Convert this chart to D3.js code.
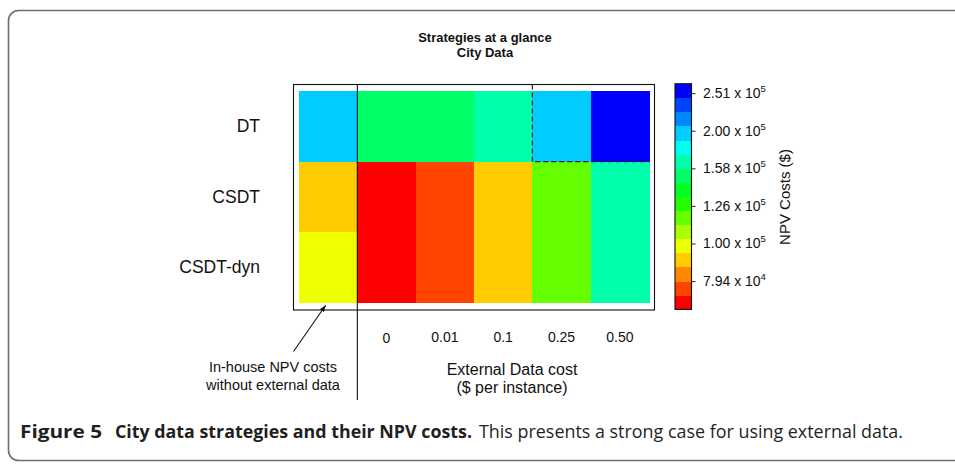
<!DOCTYPE html>
<html>
<head>
<meta charset="utf-8">
<script src="https://cdn.jsdelivr.net/npm/d3@7/dist/d3.min.js"></script>
<style>
  html, body { margin: 0; padding: 0; background: #fff; }
  svg { display: block; }
</style>
</head>
<body>
<svg id="chart" width="955" height="466"></svg>
<script>
// ---------------- data ----------------
const rows = ["DT", "CSDT", "CSDT-dyn"];
const columns = ["in-house", "0", "0.01", "0.1", "0.25", "0.50"];
const npvDT       = [196700, 151700, 151700, 165500, 196700, 254900];
const npvCSDT     = [ 90400,  69800,  76100,  90400, 117200, 165500];
const npvCSDTdyn  = [ 98600,  69800,  76100,  90400, 117200, 165500];
const colorbarRange = [66834, 266073];
const colorbarTicks = [251189, 199526, 158489, 125893, 100000, 79433];
const colorbarTickMantissa = ["2.51", "2.00", "1.58", "1.26", "1.00", "7.94"];
const colorbarTickExponent = ["5", "5", "5", "5", "5", "4"];
const tickLabels = ["0", "0.01", "0.1", "0.25", "0.50"];

// ---------------- setup ----------------
const svg = d3.select("#chart");
const FONT = "'Liberation Sans', Arial, Helvetica, sans-serif";
const nBands = 16;
const palette = d3.range(nBands).map(k => d3.hsl(k * 16, 1, 0.5).formatHex());

const logLo = Math.log10(colorbarRange[0]), logHi = Math.log10(colorbarRange[1]);
const color = d3.scaleQuantize().domain([logLo, logHi]).range(palette);

// panel frame
svg.append("rect")
  .attr("x", 8.5).attr("y", 10.5).attr("width", 1000).attr("height", 450)
  .attr("rx", 10).attr("fill", "none").attr("stroke", "#6e6e6e").attr("stroke-width", 1.6);

// ---------------- heatmap ----------------
const x = d3.scaleBand().domain(columns).range([299, 649]);
const y = d3.scaleBand().domain(rows).range([91, 302.7]);
const matrix = [npvDT, npvCSDT, npvCSDTdyn];

const cells = [];
rows.forEach((r, i) => columns.forEach((c, j) => cells.push({row: r, col: c, v: matrix[i][j]})));

svg.append("g").selectAll("rect").data(cells).join("rect")
  .attr("x", d => x(d.col))
  .attr("y", d => y(d.row))
  .attr("width", x.bandwidth() + 0.5)
  .attr("height", y.bandwidth() + 0.5)
  .attr("fill", d => color(Math.log10(d.v)))
  .attr("shape-rendering", "crispEdges");

// box around the plot
svg.append("rect")
  .attr("x", 293.5).attr("y", 84.5).attr("width", 361).attr("height", 225.5)
  .attr("fill", "none").attr("stroke", "#111").attr("stroke-width", 1.1);

// dashed region
const xd = x("0.25"), yd = y("CSDT");
svg.append("path")
  .attr("d", `M${xd},84.5 L${xd},${yd} L${x.range()[1]},${yd}`)
  .attr("fill", "none").attr("stroke", "#222").attr("stroke-width", 1.2)
  .attr("stroke-dasharray", "5,3");

// vertical separator line
svg.append("line")
  .attr("x1", x("0")).attr("x2", x("0"))
  .attr("y1", 84.5).attr("y2", 400)
  .attr("stroke", "#111").attr("stroke-width", 1.1);

// row labels
svg.append("g").selectAll("text").data(rows).join("text")
  .attr("x", 260)
  .attr("y", d => y(d) + y.bandwidth() / 2 + 6)
  .attr("text-anchor", "end")
  .attr("font-family", FONT).attr("font-size", 17.5).attr("fill", "#111")
  .text(d => d);

// column labels
svg.append("g").selectAll("text").data(tickLabels).join("text")
  .attr("x", d => x(d) + x.bandwidth() / 2)
  .attr("y", d => d === "0" ? 343 : 342)
  .attr("text-anchor", "middle")
  .attr("font-family", FONT).attr("font-size", 14).attr("fill", "#111")
  .text(d => d);

// x axis title
svg.append("text").attr("x", 512).attr("y", 375).attr("text-anchor", "middle")
  .attr("font-family", FONT).attr("font-size", 16).attr("fill", "#111")
  .text("External Data cost");
svg.append("text").attr("x", 512).attr("y", 393).attr("text-anchor", "middle")
  .attr("font-family", FONT).attr("font-size", 16).attr("fill", "#111")
  .text("($ per instance)");

// annotation
svg.append("text").attr("x", 273).attr("y", 371.5).attr("text-anchor", "middle")
  .attr("font-family", FONT).attr("font-size", 14.5).attr("fill", "#111")
  .text("In-house NPV costs");
svg.append("text").attr("x", 273).attr("y", 389.5).attr("text-anchor", "middle")
  .attr("font-family", FONT).attr("font-size", 14.5).attr("fill", "#111")
  .text("without external data");

svg.append("defs").append("marker")
  .attr("id", "arrow").attr("viewBox", "0 0 10 10")
  .attr("refX", 9).attr("refY", 5)
  .attr("markerWidth", 7).attr("markerHeight", 7)
  .attr("markerUnits", "userSpaceOnUse")
  .attr("orient", "auto")
  .append("path").attr("d", "M0,1.5 L10,5 L0,8.5 Z").attr("fill", "#111");
svg.append("line")
  .attr("x1", 293.5).attr("y1", 351.5).attr("x2", 325.5).attr("y2", 305.5)
  .attr("stroke", "#111").attr("stroke-width", 1.1)
  .attr("marker-end", "url(#arrow)");

// title
svg.append("text").attr("x", 485).attr("y", 42).attr("text-anchor", "middle")
  .attr("font-family", FONT).attr("font-size", 13).attr("font-weight", "bold").attr("fill", "#111")
  .text("Strategies at a glance");
svg.append("text").attr("x", 485).attr("y", 57).attr("text-anchor", "middle")
  .attr("font-family", FONT).attr("font-size", 13).attr("font-weight", "bold").attr("fill", "#111")
  .text("City Data");

// ---------------- colorbar ----------------
const cbX = 675, cbW = 16.5;
const cbY = d3.scaleLog().domain(colorbarRange).range([309.3, 83.7]);
const bandEdges = d3.range(nBands + 1).map(i => Math.pow(10, logLo + (logHi - logLo) * i / nBands));
const bands = d3.range(nBands).map(i => ({lo: bandEdges[i], hi: bandEdges[i + 1], c: palette[i]}));

svg.append("g").selectAll("rect").data(bands).join("rect")
  .attr("x", cbX)
  .attr("y", d => cbY(d.hi))
  .attr("width", cbW)
  .attr("height", d => cbY(d.lo) - cbY(d.hi) + 0.4)
  .attr("fill", d => d.c)
  .attr("shape-rendering", "crispEdges");

svg.append("rect")
  .attr("x", cbX).attr("y", cbY.range()[1]).attr("width", cbW)
  .attr("height", cbY.range()[0] - cbY.range()[1])
  .attr("fill", "none").attr("stroke", "#111").attr("stroke-width", 1.1);

const cbAxis = svg.append("g")
  .attr("transform", `translate(${cbX + cbW},0)`)
  .call(d3.axisRight(cbY).tickValues(colorbarTicks).tickSize(4).tickFormat(""));
cbAxis.select(".domain").remove();
cbAxis.selectAll(".tick line").attr("stroke", "#333").attr("stroke-width", 1.1);

const cbLabels = svg.append("g").selectAll("text").data(colorbarTicks).join("text")
  .attr("x", 703)
  .attr("y", d => cbY(d) + 5)
  .attr("font-family", FONT).attr("font-size", 14).attr("fill", "#111");
cbLabels.append("tspan").text((d, i) => colorbarTickMantissa[i] + " x 10");
cbLabels.append("tspan").attr("font-size", 9.5).attr("dy", -6)
  .text((d, i) => colorbarTickExponent[i]);

svg.append("text")
  .attr("transform", "translate(790,197) rotate(-90)")
  .attr("text-anchor", "middle")
  .attr("font-family", FONT).attr("font-size", 15).attr("fill", "#111")
  .text("NPV Costs ($)");

// ---------------- caption ----------------
const CAP = "'Liberation Sans Narrow', 'Open Sans', 'Noto Sans', sans-serif";
svg.append("text").attr("x", 20).attr("y", 438)
  .attr("font-family", CAP).attr("font-size", 17.5).attr("font-weight", "bold").attr("fill", "#231f20")
  .attr("textLength", 82).attr("lengthAdjust", "spacingAndGlyphs")
  .text("Figure 5");
svg.append("text").attr("x", 115).attr("y", 438)
  .attr("font-family", CAP).attr("font-size", 17.5).attr("font-weight", "bold").attr("fill", "#231f20")
  .attr("textLength", 357).attr("lengthAdjust", "spacingAndGlyphs")
  .text("City data strategies and their NPV costs.");
svg.append("text").attr("x", 479).attr("y", 438)
  .attr("font-family", CAP).attr("font-size", 17.5).attr("fill", "#231f20")
  .attr("textLength", 424).attr("lengthAdjust", "spacingAndGlyphs")
  .text("This presents a strong case for using external data.");
</script>
</body>
</html>
